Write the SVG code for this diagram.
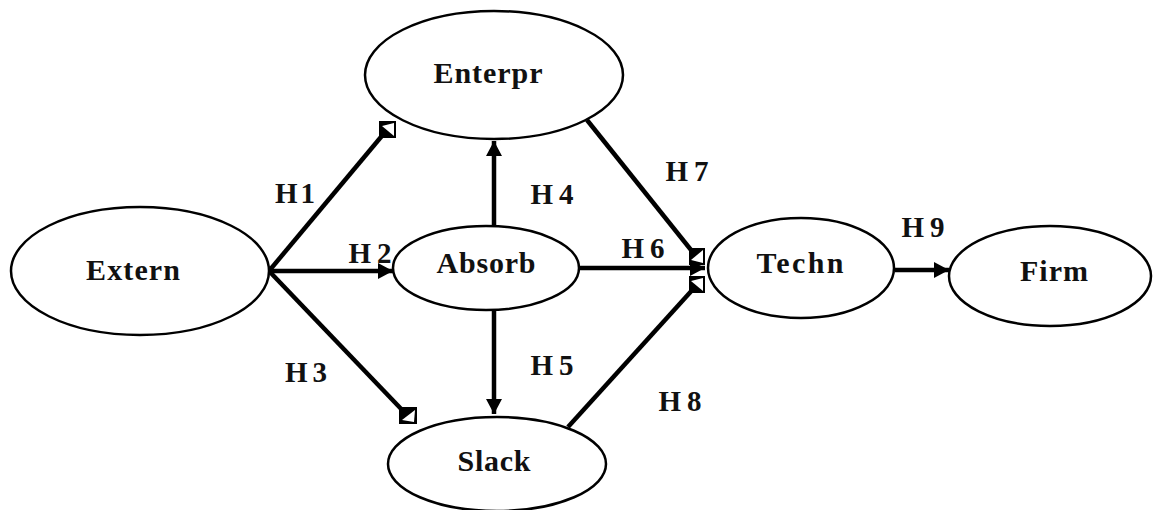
<svg xmlns="http://www.w3.org/2000/svg" width="1158" height="510" viewBox="0 0 1158 510">
<style>
.node ellipse{fill:#fff;stroke:#000;stroke-width:2.5}
.lbl{font-family:"Liberation Serif",serif;font-weight:bold;font-size:30px;fill:#111;text-anchor:middle}
.hl{font-family:"Liberation Serif",serif;font-weight:bold;font-size:29px;fill:#111;text-anchor:middle}
.c{stroke:#000;stroke-width:4.5;fill:none}
.box{fill:#000}
.tri{fill:#fff}
</style>
<defs>
<marker id="ah" markerUnits="userSpaceOnUse" markerWidth="16" markerHeight="16" refX="15" refY="8" orient="auto">
<path d="M0,0 L15,8 L0,16 z" fill="#000"/>
</marker>
</defs>
<rect width="1158" height="510" fill="#fff"/>
<g id="connectors">
<line class="c" x1="269" y1="271" x2="386" y2="131"/>
<line class="c" x1="269" y1="271" x2="393" y2="271" marker-end="url(#ah)"/>
<line class="c" x1="269" y1="271" x2="406" y2="414"/>
<line class="c" x1="494" y1="226" x2="494" y2="141" marker-end="url(#ah)"/>
<line class="c" x1="494" y1="310" x2="494" y2="414" marker-end="url(#ah)"/>
<line class="c" x1="579" y1="268" x2="705" y2="268" marker-end="url(#ah)"/>
<line class="c" x1="587" y1="120" x2="695" y2="255"/>
<line class="c" x1="568" y1="427" x2="695" y2="287"/>
<line class="c" x1="895" y1="270" x2="949" y2="270" marker-end="url(#ah)"/>
<g id="h1head"><rect class="box" x="379" y="121" width="17" height="17"/><polygon class="tri" points="382,126 394,123 394,136"/></g>
<g id="h3head"><rect class="box" x="399" y="407" width="18" height="17"/><polygon class="tri" points="415,410 414,422 402,420"/></g>
<g id="h7head"><rect class="box" x="689" y="248" width="16" height="17"/><polygon class="tri" points="703,250 703,263 691,260"/></g>
<g id="h8head"><rect class="box" x="689" y="276" width="16" height="17"/><polygon class="tri" points="691,281 703,278 703,291"/></g>
</g>
<g id="extern" class="node"><ellipse cx="140" cy="271" rx="129" ry="64"/><text class="lbl" x="133" y="280" textLength="94">Extern</text></g>
<g id="enterpr" class="node"><ellipse cx="494" cy="75" rx="129" ry="64"/><text class="lbl" x="488" y="83" textLength="109">Enterpr</text></g>
<g id="absorb" class="node"><ellipse cx="486" cy="268" rx="93" ry="42"/><text class="lbl" x="486" y="273" textLength="99">Absorb</text></g>
<g id="slack" class="node"><ellipse cx="497" cy="464" rx="109" ry="47"/><text class="lbl" x="494" y="471" textLength="73">Slack</text></g>
<g id="techn" class="node"><ellipse cx="801" cy="268" rx="93" ry="50"/><text class="lbl" x="800" y="273" textLength="87">Techn</text></g>
<g id="firm" class="node"><ellipse cx="1050" cy="276" rx="101" ry="50"/><text class="lbl" x="1054" y="281" textLength="68">Firm</text></g>
<g id="labels">
<text class="hl" x="295" y="203" textLength="40">H1</text>
<text class="hl" x="370" y="263" textLength="43">H2</text>
<text class="hl" x="306" y="382" textLength="42">H3</text>
<text class="hl" x="552" y="204" textLength="43">H4</text>
<text class="hl" x="552" y="375" textLength="43">H5</text>
<text class="hl" x="643" y="258" textLength="43">H6</text>
<text class="hl" x="687" y="181" textLength="43">H7</text>
<text class="hl" x="680" y="411" textLength="43">H8</text>
<text class="hl" x="923" y="237" textLength="43">H9</text>
</g>
</svg>
